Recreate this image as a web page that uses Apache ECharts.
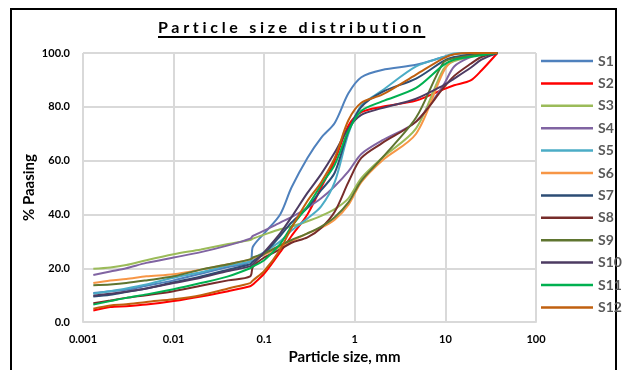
<!DOCTYPE html>
<html>
<head>
<meta charset="utf-8">
<script src="https://cdn.jsdelivr.net/npm/echarts@6/dist/echarts.min.js"></script>
<style>
  html, body { margin: 0; padding: 0; background: #fff; }
  #wrap { position: relative; width: 622px; height: 370px; }
  #chart { width: 622px; height: 370px; }
  #title {
    position: absolute; left: 158px; top: 17px;
    font-family: Lato, "Liberation Sans", sans-serif; font-weight: bold; font-size: 16px;
    letter-spacing: 3.7px; color: #000;
    text-decoration: underline; text-decoration-thickness: 1.5px; text-underline-offset: 3px;
    white-space: nowrap;
  }
</style>
</head>
<body>
<div id="wrap">
  <div id="chart"></div>
  <div id="title">Particle size distribution</div>
</div>
<script>
// sieve / hydrometer sizes (mm)
const sizes = [0.0013, 0.002, 0.003, 0.005, 0.01, 0.02, 0.04, 0.07, 0.075, 0.1, 0.15, 0.2,
  0.3, 0.425, 0.6, 0.85, 1.18, 2, 4.75, 9.5, 12.5, 19, 25, 37.5];

// % passing per sample
const s1 = [10.8, 11.5, 12, 13.5, 15.5, 18, 20.5, 22.5, 28, 33, 40, 50, 61, 68.5, 74, 85, 91, 93.7, 95.6, 98.5, 99.6, 100, 100, 100];
const s2 = [4.3, 5.6, 5.9, 6.5, 7.8, 9.5, 11.5, 13.3, 14, 18, 26, 32, 40, 50, 60, 73, 78, 80, 82.3, 86.5, 88, 89.8, 93.5, 100];
const s3 = [19.8, 20.3, 21.2, 23, 25.2, 27, 29, 30.5, 31, 32.5, 34.5, 35.5, 37.5, 39.5, 42, 46, 53.5, 61, 72, 94, 97, 98.5, 99.5, 100];
const s4 = [17.5, 18.8, 20, 22, 24, 26, 28.5, 31, 32, 34, 37, 39, 42.5, 46, 50.5, 56, 62.5, 67.5, 74.5, 88, 95, 98.5, 99.5, 100];
const s5 = [10.5, 11.5, 12.5, 14, 16.5, 18.5, 21, 22.5, 23.5, 26, 30, 34, 38.5, 43, 52, 70, 80.5, 86, 95, 98.5, 99.8, 100, 100, 100];
const s6 = [14.5, 15.5, 16, 17, 17.8, 19.5, 21.5, 23.3, 23.8, 25, 28, 30, 33, 35, 38, 43.5, 52, 60, 70, 93, 97.5, 99.5, 100, 100];
const s7 = [9.5, 10.2, 11.2, 12.5, 14.8, 17, 19.5, 21.5, 22.5, 25.5, 32, 37, 42.5, 49, 55.5, 71, 80, 85.5, 90.5, 97, 98.5, 99.5, 100, 100];
const s8 = [7, 8, 9, 10, 11.5, 13.5, 15.5, 17, 20.5, 24, 27, 29.5, 31.5, 35, 41, 52, 61, 66.5, 74.5, 87, 91.5, 96, 98.5, 100];
const s9 = [13.7, 14, 14.5, 15.5, 17, 19.5, 21.5, 23.3, 24, 25.5, 28.5, 30.5, 33, 35.5, 39, 44.5, 52.5, 61, 76, 96.5, 98, 99, 99.5, 100];
const s10 = [9.8, 10.5, 11.3, 12.5, 14.5, 16.5, 19, 20.7, 21.5, 26, 33, 39, 48, 55, 63, 72, 77, 79.5, 83, 88, 90.5, 94.5, 97.5, 100];
const s11 = [6.5, 7.8, 9, 10.3, 12.2, 14.5, 17, 20, 20.7, 23, 29, 35.5, 43, 51, 58.5, 71, 78.5, 82, 87, 95.5, 97.5, 98.6, 99.2, 100];
const s12 = [5, 6.2, 6.6, 7.5, 8.5, 10, 12.5, 14.5, 15.5, 19, 27, 35, 45, 52, 61, 75, 81.5, 84.5, 92, 98, 99.5, 100, 100, 100];

const names = ['S1', 'S2', 'S3', 'S4', 'S5', 'S6', 'S7', 'S8', 'S9', 'S10', 'S11', 'S12'];
const passing = [s1, s2, s3, s4, s5, s6, s7, s8, s9, s10, s11, s12];
const COLORS = ['#4F81BD', '#FF0000', '#9BBB59', '#8064A2', '#4BACC6', '#F79646',
  '#2C4D75', '#772C2A', '#5F7530', '#4D3B62', '#00B050', '#C0600F'];

const FONT = 'Lato, "Liberation Sans", sans-serif';

const chart = echarts.init(document.getElementById('chart'));

chart.setOption({
  animation: false,
  color: COLORS,
  grid: { left: 83, right: 86, top: 53, bottom: 47 },
  xAxis: {
    type: 'log',
    logBase: 10,
    min: 0.001,
    max: 100,
    name: 'Particle size, mm',
    nameLocation: 'middle',
    nameGap: 27,
    nameTextStyle: { fontFamily: FONT, fontWeight: 'bold', fontSize: 15, color: '#000', padding: [0, 0, 0, 70] },
    axisLine: { show: true, lineStyle: { color: '#d9d9d9', width: 2 } },
    axisTick: { show: false },
    axisLabel: {
      fontFamily: FONT, fontWeight: 'bold', fontSize: 11, color: '#000', margin: 12,
      formatter: v => String(Number(v.toPrecision(3)))
    },
    splitLine: { show: true, lineStyle: { color: '#d9d9d9', width: 2 } }
  },
  yAxis: {
    type: 'value',
    min: 0,
    max: 100,
    interval: 20,
    name: '% Paasing',
    nameLocation: 'middle',
    nameGap: 46,
    nameMoveOverlap: false,
    nameTextStyle: { fontFamily: FONT, fontWeight: 'bold', fontSize: 15, color: '#000' },
    axisLine: { show: false },
    axisTick: { show: false },
    axisLabel: {
      fontFamily: FONT, fontWeight: 'bold', fontSize: 11, color: '#000', margin: 13,
      formatter: v => v.toFixed(1)
    },
    splitLine: { lineStyle: { color: '#d9d9d9', width: 2 } }
  },
  legend: {
    orient: 'vertical',
    left: 536,
    top: 49,
    icon: 'rect',
    itemWidth: 52,
    itemHeight: 2.5,
    itemGap: 8.4,
    data: names,
    textStyle: { fontFamily: FONT, fontWeight: 'bold', fontSize: 14, color: '#595959', lineHeight: 14 }
  },
  graphic: [{
    type: 'rect',
    shape: { x: 11, y: 9, width: 605, height: 380 },
    style: { fill: 'none', stroke: '#000', lineWidth: 2 },
    silent: true
  }],
  series: names.map((n, i) => ({
    name: n,
    type: 'line',
    smooth: 0.3,
    symbol: 'none',
    lineStyle: { width: 2 },
    data: sizes.map((d, j) => [d, passing[i][j]])
  }))
});
</script>
</body>
</html>
